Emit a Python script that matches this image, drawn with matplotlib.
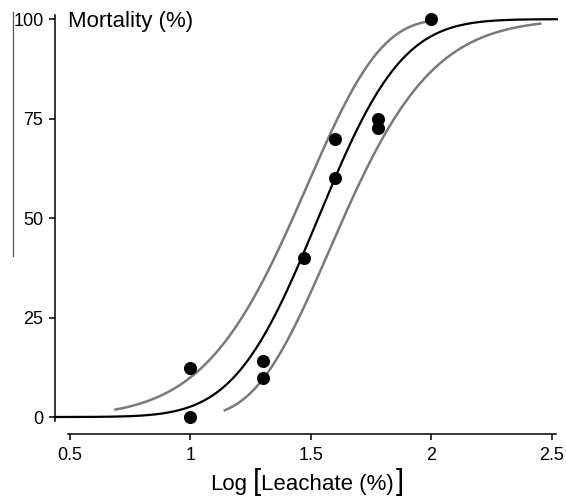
import math
import numpy as np
import matplotlib
matplotlib.use('Agg')
import matplotlib.pyplot as plt
from matplotlib.lines import Line2D

plt.rcParams['font.family'] = ['Liberation Sans', 'DejaVu Sans']

# observed mortality
log_dose = [1.0, 1.0, 1.3, 1.3, 1.47, 1.6, 1.6, 1.78, 1.78, 2.0]
mortality = [12.3, 0.0, 14.1, 9.9, 40.0, 70.0, 60.0, 75.0, 72.7, 100.0]

# probit fit (x = mu + sigma*z)
fit_mu = 1.53
fit_sigma = 0.273
fit_range = (0.44, 2.52)

# confidence limits, x = a + b*z + c*z^2
left_cl = dict(a=1.425, b=0.294, c=-0.0288, z=(-2.08, 2.57))
right_cl = dict(a=1.635, b=0.293, c=0.0286, z=(-2.12, 2.28))

x_ticks = [0.5, 1, 1.5, 2, 2.5]
x_tick_labels = ['0.5', '1', '1.5', '2', '2.5']
y_ticks = [0, 25, 50, 75, 100]
y_tick_labels = ['0', '25', '50', '75', '100']

phi = np.vectorize(lambda z: 50.0 * (1.0 + math.erf(z / math.sqrt(2.0))))

W, H = 566, 498
fig = plt.figure(figsize=(W / 100, H / 100), dpi=100)
ax = fig.add_axes([55 / W, 1 - 434 / H, 509 / W, 424 / H])

# fitted curve
xs = np.linspace(fit_range[0], fit_range[1], 300)
ax.plot(xs, phi((xs - fit_mu) / fit_sigma), color='black', lw=1.6, zorder=3)

# confidence bands
for cl in (left_cl, right_cl):
    zs = np.linspace(cl['z'][0], cl['z'][1], 300)
    ax.plot(cl['a'] + cl['b'] * zs + cl['c'] * zs ** 2, phi(zs),
            color='#7a7a7a', lw=1.8, zorder=2)

ax.plot(log_dose, mortality, 'o', color='black', ms=8.4, zorder=4)

ax.set_xlim(0.438, 2.55)
ax.set_ylim(-4.27, 102.3)

for s in ('top', 'right'):
    ax.spines[s].set_visible(False)
ax.spines['left'].set_bounds(-1, 101)
ax.spines['bottom'].set_bounds(0.49, 2.515)
ax.spines['left'].set_linewidth(1.1)
ax.spines['bottom'].set_linewidth(1.1)

ax.set_xticks(x_ticks)
ax.set_xticklabels(x_tick_labels)
ax.set_yticks(y_ticks)
ax.set_yticklabels(y_tick_labels)
ax.tick_params(axis='y', direction='out', length=4.3, width=1.1, labelsize=13, pad=4)
ax.tick_params(axis='x', direction='out', length=4.3, width=1.1, labelsize=13, pad=5)

ax.text(0.493, 99.3, 'Mortality (%)', fontsize=16, va='center', ha='left')

# x label with tall brackets, built from pieces
fig.canvas.draw()
rend = fig.canvas.get_renderer()
parts = [('Log', 16, 6), ('[', 21, 0), ('Leachate (%)', 16, 2), (']', 21, 0)]
xpos = 210
for txt, fs, gap in parts:
    t = fig.text(xpos / W, 8 / H, txt, fontsize=fs, va='baseline', ha='left')
    xpos = t.get_window_extent(rend).x1 + gap

# scan edge line on the left of the page
fig.add_artist(Line2D([13 / W, 13 / W], [1 - 12 / H, 1 - 256 / H],
                      color='#555555', lw=0.9))

fig.savefig('out.png', dpi=100)
